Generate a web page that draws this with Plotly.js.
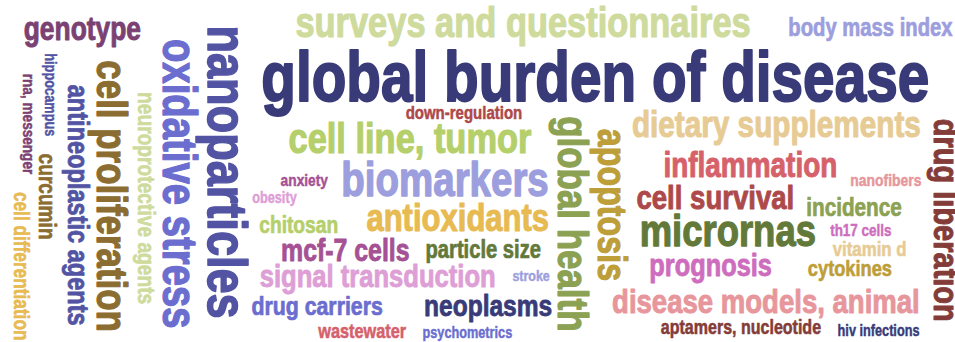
<!DOCTYPE html>
<html>
<head>
<meta charset="utf-8">
<script src="https://cdn.plot.ly/plotly-3.0.1.min.js"></script>
<style>
html,body{margin:0;padding:0;background:#fff;}
#chart{width:955px;height:342px;}
</style>
</head>
<body>
<div id="chart"></div>
<script>
// ---- data: keywords and their weights (weight = relative frequency, drawn as font size) ----
const words = [
  "global burden of disease","surveys and questionnaires","genotype","body mass index",
  "nanoparticles","oxidative stress","cell proliferation","neuroprotective agents",
  "antineoplastic agents","hippocampus","rna, messenger","curcumin","cell differentiation",
  "down-regulation","cell line, tumor","biomarkers","antioxidants","anxiety","obesity",
  "chitosan","mcf-7 cells","signal transduction","drug carriers","wastewater","psychometrics",
  "particle size","stroke","neoplasms","global health","apoptosis","dietary supplements",
  "inflammation","cell survival","micrornas","prognosis","disease models, animal",
  "aptamers, nucleotide","nanofibers","incidence","th17 cells","vitamin d","cytokines",
  "hiv infections","drug liberation"
];
const weights = [
  70, 42.5, 32.6, 25,
  55.7, 47.3, 43.1, 23.7,
  29.1, 15.8, 16.8, 23.6, 21.3,
  18.5, 42.5, 47.5, 38.3, 17, 15.7,
  23.7, 30.7, 31.6, 26.3, 20.1, 15.7,
  24.9, 15.4, 30.3, 43.1, 39.8, 36.7,
  34.5, 34, 45, 31.3, 34,
  19.8, 17.2, 25.6, 16.6, 20.8, 22.5,
  15.7, 35.8
];

// ---- layout of the cloud (positions in pixel-like axis units, rotation, colour) ----
const posX = [
  595, 522.5, 82.5, 870,
  227.5, 179.5, 112, 146.3,
  78, 50.5, 29, 47, 20.5,
  464, 410, 445, 457.5, 304, 274.5,
  298, 345, 377.5, 316.5, 362, 467.5,
  483.5, 531, 488, 573, 612, 776.5,
  750, 715, 727.5, 710, 766,
  741, 886, 853.5, 861, 869.5, 849.5,
  878.5, 946.5
];
const posY = [
  77.4, 22, 28.5, 27.3,
  171.5, 183.5, 195.5, 198.5,
  204.5, 95, 124, 196.5, 266,
  112.5, 138, 179, 217.7, 180, 197.5,
  224.7, 250, 276, 306, 331, 332.5,
  249, 275.7, 305.5, 224, 205, 124,
  165, 197, 230, 265, 301,
  327, 180, 207, 230, 248.6, 268,
  330.6, 220.5
];
const angles = [
  0,0,0,0,
  90,90,90,90,
  90,90,90,90,90,
  0,0,0,0,0,0,
  0,0,0,0,0,0,
  0,0,0,90,90,0,
  0,0,0,0,0,
  0,0,0,0,0,0,
  0,90
];
const colors = [
  "#393b79","#cedb9c","#7b4173","#9c9ede",
  "#5254a3","#6b6ecf","#8c6d31","#cedb9c",
  "#5254a3","#5254a3","#7b4173","#8c6d31","#e7ba52",
  "#ad494a","#b5cf6b","#9c9ede","#e7ba52","#a55194","#de9ed6",
  "#b5cf6b","#a55194","#de9ed6","#6b6ecf","#d6616b","#6b6ecf",
  "#637939","#9c9ede","#393b79","#8ca252","#bd9e39","#e7cb94",
  "#d6616b","#ad494a","#637939","#ce6dbd","#e7969c",
  "#843c39","#e7969c","#8ca252","#ce6dbd","#e7cb94","#bd9e39",
  "#393b79","#843c39"
];

const FONT = "'Liberation Sans', Arial, sans-serif";
const CONDENSE = 0.81;   // narrow the glyphs, like a condensed face
const HEAVY = 0.028;     // extra stroke (fraction of font size) for a heavier face

const annotations = words.map((w, i) => ({
  x: posX[i], y: posY[i], xref: "x", yref: "y",
  text: w, showarrow: false, textangle: angles[i],
  xanchor: "center", yanchor: "middle", borderpad: 0,
  font: { family: FONT, size: weights[i], color: colors[i], weight: "bold" }
}));

const trace = {
  type: "scatter", mode: "markers", x: posX, y: posY, text: words,
  marker: { size: 1, opacity: 0 }, hoverinfo: "text", showlegend: false
};

const layout = {
  width: 955, height: 342,
  margin: { l: 0, r: 0, t: 0, b: 0 },
  paper_bgcolor: "#ffffff", plot_bgcolor: "#ffffff",
  xaxis: { range: [0, 955], visible: false, fixedrange: true },
  yaxis: { range: [342, 0], visible: false, fixedrange: true },
  annotations: annotations,
  showlegend: false
};

Plotly.newPlot("chart", [trace], layout, { displayModeBar: false, staticPlot: true }).then(gd => {
  gd.querySelectorAll("g.annotation").forEach(g => {
    const i = +g.getAttribute("data-index");
    const t = g.querySelector("text.annotation-text");
    if (!t) return;
    const len = t.getComputedTextLength();
    t.setAttribute("textLength", (len * CONDENSE).toFixed(2));
    t.setAttribute("lengthAdjust", "spacingAndGlyphs");
    t.style.stroke = colors[i];
    t.style.strokeWidth = (weights[i] * HEAVY).toFixed(2) + "px";
    t.style.strokeLinejoin = "round";
  });
});
</script>
</body>
</html>
